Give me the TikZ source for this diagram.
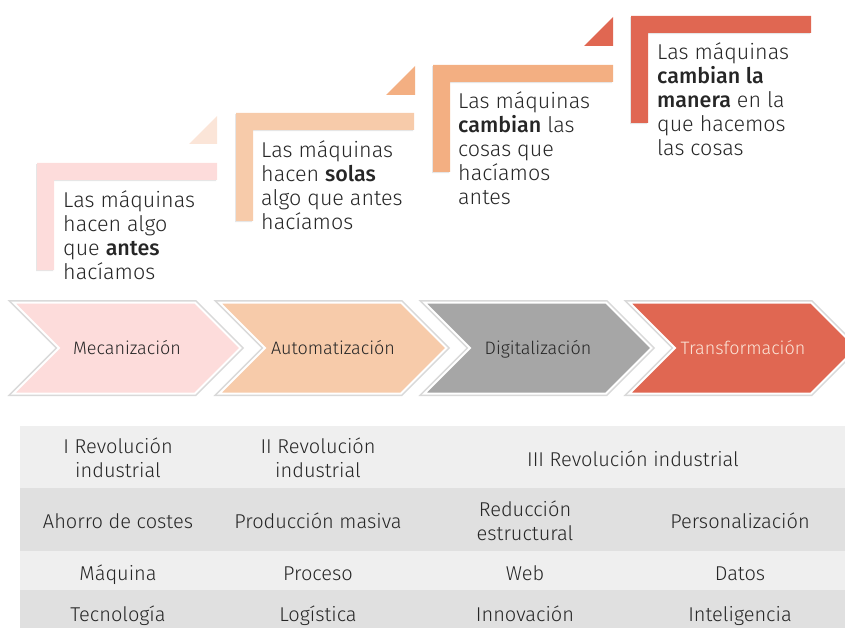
\documentclass[tikz,border=0pt]{standalone}
\usepackage{fontspec}
\setmainfont{Fira Sans}[UprightFont={* Light}, BoldFont={* Medium}]
\usetikzlibrary{shapes.symbols,shadows}

\definecolor{pinkstep}{HTML}{FDDCDB}
\definecolor{peachstep}{HTML}{F7CBAA}
\definecolor{paletri}{HTML}{FBE5D8}
\definecolor{orangestep}{HTML}{F3AF82}
\definecolor{graystep}{HTML}{A6A6A6}
\definecolor{redstep}{HTML}{E06752}
\definecolor{rowlight}{HTML}{EFEFEF}
\definecolor{rowdark}{HTML}{E0E0E0}
\definecolor{inktext}{HTML}{262626}

\tikzstyle{bar} = [drop shadow={shadow xshift=-0.8pt, shadow yshift=-1.2pt, opacity=0.2}]
\tikzstyle{note} = [anchor=north west, align=left, inner sep=0pt, text=inktext, font=\fontsize{21.5}{24}\selectfont]
\tikzstyle{chevron} = [shape=signal, signal from=west, signal to=east, signal pointer angle=90, minimum width=227pt, minimum height=91pt, inner sep=0pt, text height=13pt, text depth=0pt, draw=white, line width=2pt, preaction={draw=black!15, line width=5pt}, text=inktext, font=\fontsize{18}{20}\selectfont]
\tikzstyle{cell} = [align=center, inner sep=0pt, text=inktext, font=\fontsize{20}{24}\selectfont]
\tikzstyle{cell line} = [cell, text height=14pt, text depth=4pt]

\begin{document}
\begin{tikzpicture}[x=1pt, y=-1pt]
        \useasboundingbox (0,0) rectangle (845,628);
        \clip (0,0) rectangle (845,628);

        % stair of L bars and corner triangles
        \fill [bar, pinkstep] (37,163) -- ++(180,0) -- ++(0,17) -- ++(-163,0) -- ++(0,90) -- ++(-17,0) -- cycle;
        \fill [bar, peachstep] (236,113) -- ++(178,0) -- ++(0,17) -- ++(-161,0) -- ++(0,91) -- ++(-17,0) -- cycle;
        \fill [bar, orangestep] (433,65) -- ++(180,0) -- ++(0,17) -- ++(-163,0) -- ++(0,90) -- ++(-17,0) -- cycle;
        \fill [bar, redstep] (631,16) -- ++(180,0) -- ++(0,17) -- ++(-163,0) -- ++(0,90) -- ++(-17,0) -- cycle;
        \fill [paletri] (189,144) -- (217,116) -- (217,144) -- cycle;
        \fill [orangestep] (386,95) -- (415,66) -- (415,95) -- cycle;
        \fill [redstep] (584,46) -- (613,17) -- (613,46) -- cycle;

        \node (Step One) [note] at (63,190) {Las máquinas\\hacen algo\\que \textbf{antes}\\hacíamos};
        \node (Step Two) [note] at (261,140) {Las máquinas\\hacen \textbf{solas}\\algo que antes\\hacíamos};
        \node (Step Three) [note] at (458,91) {Las máquinas\\\textbf{cambian} las\\cosas que\\hacíamos\\antes};
        \node (Step Four) [note] at (657,42) {Las máquinas\\\textbf{cambian la}\\\textbf{manera} en la\\que hacemos\\las cosas};

        % chevrons
        \node (Mecanizacion) [chevron, fill=pinkstep] at (127,348) {Mecanización};
        \node (Automatizacion) [chevron, fill=peachstep] at (333,348) {Automatización};
        \node (Digitalizacion) [chevron, fill=graystep] at (538,348) {Digitalización};
        \node (Transformacion) [chevron, fill=redstep, text=paletri] at (743,348) {Transformación};

        % table
        \fill [rowlight] (20,426) rectangle (845,488);
        \fill [rowdark] (20,488) rectangle (845,551);
        \fill [rowlight] (20,551) rectangle (845,590);
        \fill [rowdark] (20,590) rectangle (845,628);

        \node (First Rev) [cell] at (118,458) {I Revolución\\industrial};
        \node (Second Rev) [cell] at (318,458) {II Revolución\\industrial};
        \node (Third Rev) [cell line] at (633,461.5) {III Revolución industrial};
        \node (Savings) [cell line] at (118,523.5) {Ahorro de costes};
        \node (Mass) [cell line] at (318,523.5) {Producción masiva};
        \node (Reduction) [cell] at (525,521) {Reducción\\estructural};
        \node (Custom) [cell line] at (740,523.5) {Personalización};
        \node (Machine) [cell line] at (118,575) {Máquina};
        \node (Process) [cell line] at (318,575) {Proceso};
        \node (Web) [cell line] at (525,575) {Web};
        \node (Data) [cell line] at (740,575) {Datos};
        \node (Technology) [cell line] at (118,616) {Tecnología};
        \node (Logistics) [cell line] at (318,616) {Logística};
        \node (Innovation) [cell line] at (525,616) {Innovación};
        \node (Intelligence) [cell line] at (740,616) {Inteligencia};
    \end{tikzpicture}
\end{document}
